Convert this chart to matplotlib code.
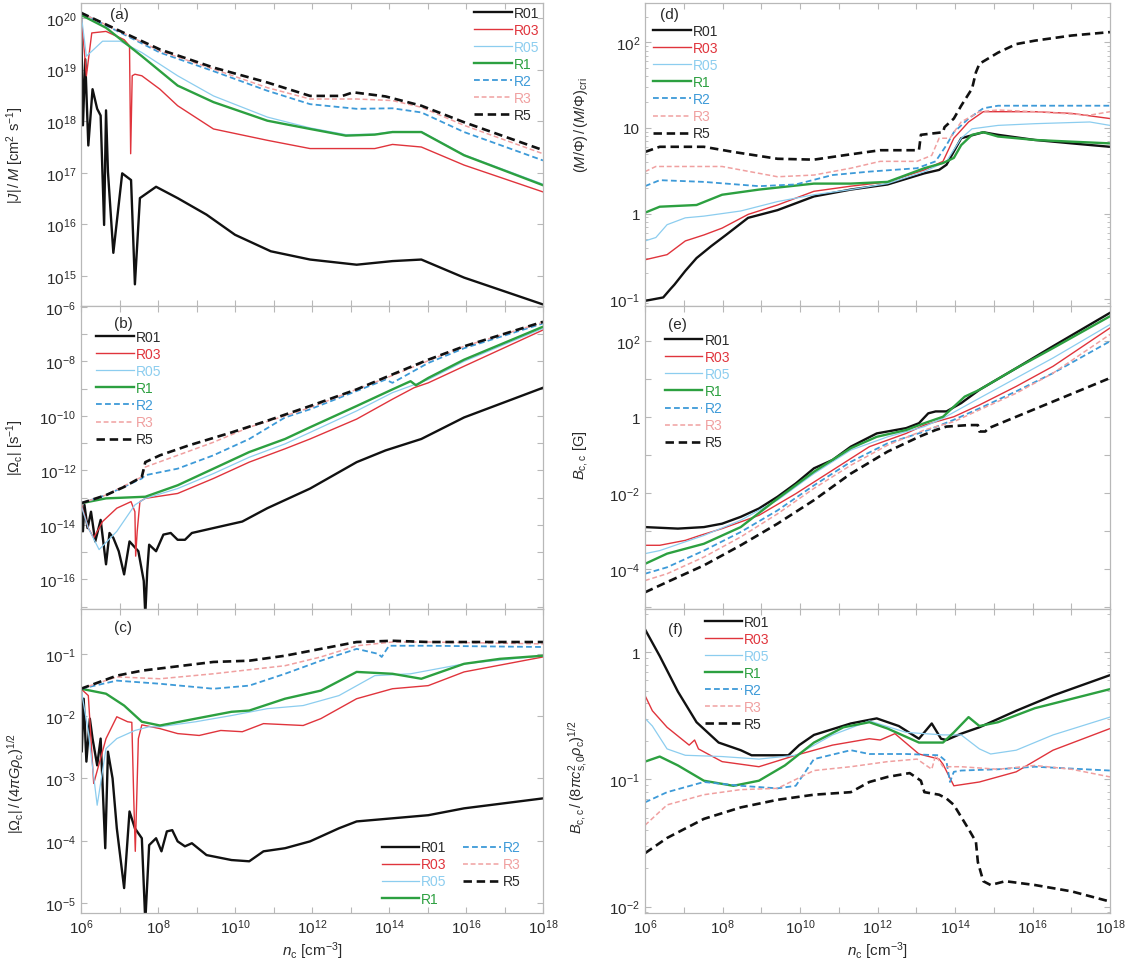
import numpy as np
import matplotlib
matplotlib.use("Agg")
import matplotlib.pyplot as plt
from matplotlib.ticker import FixedLocator, FuncFormatter, NullFormatter

plt.rcParams['font.family'] = ['Liberation Sans', 'DejaVu Sans']
plt.rcParams['mathtext.fontset'] = 'custom'
plt.rcParams['mathtext.rm'] = 'Liberation Sans'
plt.rcParams['mathtext.it'] = 'Liberation Sans:italic'
plt.rcParams['mathtext.bf'] = 'Liberation Sans:bold'

# ---------------- data (log10 n_c , log10 value) ----------------
LABELS = ["R01", "R03", "R05", "R1", "R2", "R3", "R5"]

# panel (a): |J|/M
a_r01_n = [6.00,6.05,6.11,6.19,6.30,6.42,6.51,6.60,6.65,6.70,6.84,7.07,7.30,7.40,7.53,7.95,8.51,9.26,10.0,10.93,11.95,13.16,14.09,14.84,15.95,18.0]
a_r01_v = [20.10,17.92,19.20,17.53,18.62,18.24,18.11,15.99,18.21,17.02,15.45,16.99,16.86,14.84,16.51,16.73,16.51,16.19,15.80,15.48,15.32,15.22,15.29,15.32,14.97,14.45]
a_r03_n = [6.00,6.14,6.28,6.65,7.12,7.26,7.29,7.33,7.40,7.58,8.05,8.51,9.44,10.84,11.95,13.63,14.09,14.84,15.95,18.0]
a_r03_v = [20.10,18.88,19.71,19.74,19.58,19.46,17.37,18.88,18.91,18.88,18.62,18.30,17.85,17.63,17.47,17.47,17.55,17.50,17.15,16.63]
a_r05_n = [6.0,6.14,6.33,6.56,7.02,7.58,8.51,9.44,10.84,11.95,12.88,13.63,14.09,14.84,15.95,18.0]
a_r05_v = [20.10,19.26,19.39,19.55,19.55,19.33,18.88,18.49,18.08,17.87,17.74,17.75,17.80,17.80,17.35,16.78]
a_r1_n = [6.0,6.65,7.58,8.51,9.44,10.84,11.95,12.88,13.63,14.09,14.84,15.95,18.0]
a_r1_v = [20.06,19.81,19.26,18.69,18.37,18.01,17.85,17.72,17.74,17.79,17.79,17.34,16.76]
a_r2_n = [6.0,7.12,8.05,9.44,10.84,11.95,13.16,14.09,14.84,15.95,18.0]
a_r2_v = [20.10,19.68,19.33,18.97,18.59,18.33,18.24,18.25,18.17,17.79,17.24]
a_r3_n = [6.0,7.12,8.05,9.44,10.84,11.95,13.16,14.09,14.84,15.95,18.0]
a_r3_v = [20.10,19.70,19.36,19.01,18.65,18.43,18.43,18.40,18.27,17.92,17.37]
a_r5_n = [6.0,7.12,8.05,9.44,10.84,11.95,12.79,13.07,13.91,14.84,15.95,18.0]
a_r5_v = [20.10,19.71,19.39,19.04,18.75,18.49,18.49,18.56,18.48,18.30,17.98,17.44]

# panel (b): |Omega_c|
b_r01_n = [6.00,6.05,6.09,6.17,6.26,6.37,6.51,6.65,6.74,6.84,6.98,7.12,7.26,7.49,7.63,7.67,7.72,7.77,7.95,8.14,8.33,8.51,8.70,8.88,9.44,10.19,10.84,11.95,13.16,13.91,14.84,15.95,18.0]
b_r01_v = [-13.21,-14.24,-13.27,-14.12,-13.52,-14.61,-13.82,-15.45,-14.30,-14.48,-14.97,-15.82,-14.61,-14.97,-16.06,-17.3,-15.70,-14.73,-14.97,-14.36,-14.30,-14.55,-14.55,-14.30,-14.12,-13.88,-13.39,-12.67,-11.70,-11.27,-10.85,-10.06,-8.97]
b_r03_n = [6.00,6.19,6.33,6.56,6.93,7.30,7.40,7.42,7.46,7.53,7.67,8.51,9.44,10.37,11.30,11.95,13.16,14.09,14.65,15.02,15.95,18.0]
b_r03_v = [-13.21,-14.12,-14.48,-13.88,-13.39,-13.15,-13.52,-15.15,-14.24,-13.15,-13.03,-12.85,-12.30,-11.70,-11.21,-10.85,-10.12,-9.39,-8.97,-8.79,-8.18,-6.85]
b_r05_n = [6.0,6.19,6.47,6.93,7.40,7.67,8.51,9.44,10.37,11.30,11.95,13.16,14.09,15.02,15.95,18.0]
b_r05_v = [-13.27,-14.12,-14.91,-14.24,-13.27,-13.03,-12.67,-12.12,-11.52,-11.03,-10.61,-9.82,-9.15,-8.67,-8.0,-6.79]
b_r1_n = [6.0,6.65,7.67,8.51,9.44,10.37,11.30,11.95,13.16,14.09,14.56,14.70,15.02,15.95,18.0]
b_r1_v = [-13.21,-13.03,-12.97,-12.55,-11.94,-11.33,-10.85,-10.42,-9.64,-9.03,-8.73,-8.88,-8.61,-7.94,-6.73]
b_r2_n = [6.0,6.65,7.58,7.67,8.51,9.44,10.37,11.30,11.95,13.16,13.91,14.09,15.02,15.95,18.0]
b_r2_v = [-13.21,-12.91,-12.30,-12.18,-11.94,-11.45,-10.85,-10.06,-9.76,-9.09,-8.67,-8.79,-8.06,-7.52,-6.61]
b_r3_n = [6.0,6.65,7.58,7.67,8.51,9.44,10.37,11.30,11.95,13.16,14.09,15.02,15.95,18.0]
b_r3_v = [-13.21,-12.91,-12.24,-11.88,-11.45,-10.97,-10.42,-10.0,-9.70,-9.03,-8.52,-7.98,-7.45,-6.57]
b_r5_n = [6.0,6.65,7.12,7.58,7.67,8.05,8.79,9.91,10.84,11.95,13.16,14.09,15.02,15.95,18.0]
b_r5_v = [-13.21,-12.91,-12.61,-12.24,-11.70,-11.45,-11.09,-10.61,-10.18,-9.64,-9.03,-8.48,-7.94,-7.45,-6.55]

# panel (c): |Omega_c| / (4 pi G rho_c)^1/2
c_r01_n = [6.0,6.02,6.07,6.14,6.23,6.30,6.42,6.51,6.63,6.70,6.82,6.93,7.12,7.26,7.40,7.58,7.67,7.77,7.95,8.09,8.23,8.37,8.51,8.70,8.88,9.26,9.91,10.37,10.74,11.30,11.95,12.70,13.16,14.09,15.02,15.95,18.0]
c_r01_v = [-1.56,-2.57,-1.72,-2.73,-2.04,-2.36,-2.79,-2.36,-4.12,-2.57,-3.0,-3.80,-4.76,-3.53,-3.80,-3.96,-5.3,-4.07,-3.96,-4.17,-3.85,-3.83,-4.01,-4.09,-4.04,-4.23,-4.31,-4.33,-4.17,-4.12,-4.01,-3.80,-3.69,-3.64,-3.59,-3.48,-3.32]
c_r03_n = [6.0,6.19,6.33,6.65,6.93,7.21,7.32,7.37,7.41,7.49,7.58,8.05,8.51,9.07,9.63,10.19,10.74,11.77,12.23,13.16,14.09,15.02,15.95,18.0]
c_r03_v = [-1.56,-1.67,-3.08,-2.36,-2.01,-2.09,-2.10,-3.32,-4.17,-2.36,-2.14,-2.20,-2.28,-2.31,-2.23,-2.25,-2.12,-2.15,-2.04,-1.72,-1.56,-1.51,-1.29,-1.05]
c_r05_n = [6.0,6.19,6.42,6.65,6.93,7.40,7.77,8.05,8.98,9.91,10.84,11.77,12.70,13.63,14.56,15.95,18.0]
c_r05_v = [-1.56,-2.25,-3.43,-2.52,-2.36,-2.23,-2.17,-2.17,-2.09,-1.99,-1.88,-1.83,-1.67,-1.35,-1.32,-1.16,-1.03]
c_r1_n = [6.0,6.65,7.12,7.58,8.05,8.98,9.91,10.37,11.30,12.23,13.16,14.09,14.84,15.95,16.88,18.0]
c_r1_v = [-1.56,-1.64,-1.83,-2.09,-2.15,-2.04,-1.93,-1.91,-1.72,-1.59,-1.29,-1.32,-1.40,-1.16,-1.08,-1.03]
c_r2_n = [6.0,6.93,8.05,9.44,10.37,11.30,12.23,13.16,13.72,13.81,14.0,15.02,18.0]
c_r2_v = [-1.56,-1.43,-1.48,-1.56,-1.51,-1.32,-1.11,-0.92,-1.0,-1.05,-0.87,-0.87,-0.89]
c_r3_n = [6.0,6.93,8.05,9.44,11.30,12.23,13.16,14.09,15.02,18.0]
c_r3_v = [-1.56,-1.37,-1.40,-1.32,-1.19,-1.05,-0.87,-0.81,-0.81,-0.84]
c_r5_n = [6.0,6.93,7.58,9.44,10.37,11.30,12.23,13.16,14.09,15.02,18.0]
c_r5_v = [-1.56,-1.35,-1.27,-1.13,-1.11,-1.03,-0.92,-0.81,-0.79,-0.81,-0.81]

# panel (d): (M/Phi)/(M/Phi)_cri
d_r01_n = [6.0,6.47,6.66,6.76,7.04,7.33,7.71,8.09,8.66,9.42,10.36,11.31,12.26,13.21,13.59,13.78,14.16,14.73,15.11,16.06,17.01,18.0]
d_r01_v = [-1.02,-0.98,-0.88,-0.83,-0.67,-0.52,-0.38,-0.25,-0.05,0.04,0.20,0.28,0.34,0.47,0.51,0.57,0.88,0.95,0.92,0.86,0.82,0.78]
d_r03_n = [6.0,6.57,7.04,7.52,7.99,8.66,9.42,10.36,11.31,12.26,13.21,13.69,13.97,14.35,14.73,16.06,17.01,18.0]
d_r03_v = [-0.54,-0.48,-0.32,-0.25,-0.17,-0.01,0.10,0.26,0.32,0.37,0.51,0.61,0.88,1.07,1.19,1.19,1.17,1.11]
d_r05_n = [6.0,6.28,6.57,7.04,7.52,8.47,9.42,10.36,11.31,12.26,13.21,13.78,14.16,14.44,15.11,16.06,17.48,18.0]
d_r05_v = [-0.32,-0.28,-0.13,-0.05,-0.03,0.03,0.14,0.22,0.28,0.35,0.49,0.61,0.88,0.99,1.03,1.05,1.07,1.03]
d_r1_n = [6.0,6.38,7.33,7.99,8.94,10.36,11.31,12.26,13.21,13.69,13.97,14.16,14.44,14.73,15.11,16.06,17.01,18.0]
d_r1_v = [0.01,0.08,0.10,0.22,0.28,0.35,0.35,0.37,0.53,0.59,0.65,0.80,0.92,0.95,0.90,0.86,0.84,0.82]
d_r2_n = [6.0,6.38,7.52,8.94,9.89,10.84,11.79,13.02,13.50,13.78,13.97,14.35,14.73,15.11,16.06,18.0]
d_r2_v = [0.32,0.39,0.37,0.32,0.34,0.45,0.49,0.53,0.61,0.80,0.95,1.11,1.23,1.26,1.26,1.26]
d_r3_n = [6.0,6.28,7.99,9.42,10.36,11.31,12.07,13.02,13.40,13.59,13.87,13.97,14.16,14.63,15.11,16.06,17.48,18.0]
d_r3_v = [0.49,0.55,0.55,0.43,0.45,0.53,0.61,0.61,0.68,0.88,0.88,0.95,1.07,1.19,1.21,1.19,1.15,1.19]
d_r5_n = [6.0,6.38,7.52,8.28,9.42,10.36,11.12,12.07,13.07,13.12,13.69,13.73,13.97,14.16,14.44,14.54,14.63,15.11,15.58,16.06,17.01,18.0]
d_r5_v = [0.72,0.78,0.78,0.72,0.64,0.63,0.68,0.74,0.74,0.92,0.95,1.01,1.11,1.26,1.46,1.65,1.75,1.88,1.98,2.02,2.08,2.12]

# panel (e): B_c,c
e_r01_n = [6.0,6.85,7.52,7.99,8.47,8.94,9.42,9.89,10.36,10.84,11.31,11.98,12.74,13.07,13.31,13.50,13.78,14.16,14.63,15.58,16.53,18.0]
e_r01_v = [-2.90,-2.94,-2.90,-2.81,-2.63,-2.41,-2.10,-1.75,-1.35,-1.13,-0.78,-0.43,-0.29,-0.16,0.10,0.15,0.15,0.37,0.72,1.29,1.87,2.75]
e_r03_n = [6.0,6.38,7.04,7.42,7.99,8.94,9.89,10.84,11.79,12.74,13.21,13.97,14.63,15.58,16.53,18.0]
e_r03_v = [-3.38,-3.38,-3.25,-3.12,-2.94,-2.59,-2.02,-1.40,-0.78,-0.43,-0.21,0.01,0.32,0.81,1.34,2.35]
e_r05_n = [6.0,6.38,7.52,8.47,9.42,10.36,11.31,12.26,13.21,13.69,14.63,15.58,16.53,18.0]
e_r05_v = [-3.60,-3.52,-3.12,-2.72,-2.19,-1.49,-0.87,-0.52,-0.25,-0.03,0.50,1.03,1.56,2.44]
e_r1_n = [6.0,6.57,7.52,8.47,9.42,10.36,11.31,11.98,12.74,13.21,13.69,14.25,14.63,15.58,16.53,18.0]
e_r1_v = [-3.87,-3.60,-3.34,-2.90,-2.15,-1.44,-0.82,-0.52,-0.34,-0.16,0.01,0.54,0.72,1.29,1.82,2.66]
e_r2_n = [6.0,6.57,7.52,8.47,9.42,10.36,11.31,12.26,13.21,13.97,14.63,15.58,16.53,18.0]
e_r2_v = [-4.13,-3.96,-3.52,-3.03,-2.46,-1.80,-1.18,-0.69,-0.38,-0.07,0.23,0.68,1.16,2.0]
e_r3_n = [6.0,6.57,7.52,8.47,9.42,10.36,11.31,12.26,13.21,13.97,14.63,15.58,16.53,18.0]
e_r3_v = [-4.31,-4.13,-3.69,-3.16,-2.55,-1.88,-1.27,-0.74,-0.34,-0.12,0.19,0.63,1.16,2.18]
e_r5_n = [6.0,6.57,7.52,8.47,9.42,10.36,11.31,12.26,13.07,13.50,13.78,14.35,14.59,14.63,14.78,14.87,15.58,16.53,18.0]
e_r5_v = [-4.62,-4.35,-3.91,-3.38,-2.81,-2.19,-1.49,-0.91,-0.52,-0.34,-0.25,-0.21,-0.21,-0.38,-0.38,-0.29,0.01,0.41,1.03]

# panel (f): B_c,c / (8 pi c_s0^2 rho_c)^1/2
f_r01_n = [6.0,6.38,6.85,7.33,7.90,8.47,8.75,9.70,9.98,10.36,11.31,11.98,12.55,13.07,13.40,13.64,13.78,14.16,14.63,15.58,16.53,18.0]
f_r01_v = [0.18,-0.03,-0.31,-0.55,-0.71,-0.77,-0.81,-0.81,-0.73,-0.65,-0.56,-0.52,-0.58,-0.68,-0.56,-0.68,-0.69,-0.64,-0.59,-0.46,-0.34,-0.18]
f_r03_n = [6.0,6.19,6.57,7.14,7.28,7.38,7.99,8.94,9.89,10.84,11.79,12.07,12.45,13.07,13.59,13.69,13.97,14.63,15.58,16.53,18.0]
f_r03_v = [-0.34,-0.46,-0.59,-0.73,-0.69,-0.76,-0.86,-0.90,-0.81,-0.73,-0.68,-0.69,-0.64,-0.80,-0.84,-0.88,-1.05,-1.02,-0.94,-0.77,-0.60]
f_r05_n = [6.0,6.19,6.57,7.04,7.99,8.94,9.89,10.84,11.79,12.74,13.69,14.16,14.63,14.92,15.58,16.53,18.0]
f_r05_v = [-0.52,-0.58,-0.76,-0.81,-0.82,-0.84,-0.81,-0.65,-0.54,-0.63,-0.65,-0.65,-0.76,-0.80,-0.77,-0.65,-0.51]
f_r1_n = [6.0,6.38,6.85,7.52,8.28,8.94,9.61,10.36,11.12,11.79,12.26,13.07,13.69,13.97,14.35,14.63,15.11,16.06,18.0]
f_r1_v = [-0.86,-0.82,-0.89,-1.01,-1.05,-1.01,-0.89,-0.71,-0.59,-0.55,-0.60,-0.71,-0.71,-0.63,-0.51,-0.58,-0.55,-0.44,-0.29]
f_r2_n = [6.0,6.57,7.52,8.47,9.42,9.89,10.36,11.31,11.79,12.74,13.59,13.78,13.87,13.97,14.16,15.11,16.06,18.0]
f_r2_v = [-1.18,-1.10,-1.02,-1.05,-1.07,-1.05,-0.84,-0.77,-0.80,-0.80,-0.81,-0.86,-1.02,-0.94,-0.93,-0.92,-0.90,-0.93]
f_r3_n = [6.0,6.57,7.52,8.47,9.42,10.36,11.31,12.26,13.02,13.40,13.50,13.69,14.16,15.11,16.06,17.01,18.0]
f_r3_v = [-1.36,-1.20,-1.12,-1.08,-1.07,-0.93,-0.90,-0.86,-0.84,-0.92,-0.81,-0.90,-0.90,-0.92,-0.89,-0.92,-0.98]
f_r5_n = [6.0,6.57,7.52,8.47,9.42,10.36,11.31,11.79,12.26,12.83,13.12,13.21,13.59,13.78,13.97,14.35,14.54,14.59,14.73,14.92,15.30,16.06,17.01,18.0]
f_r5_v = [-1.58,-1.46,-1.31,-1.22,-1.16,-1.12,-1.10,-1.02,-0.98,-0.95,-1.01,-1.10,-1.12,-1.15,-1.20,-1.39,-1.49,-1.65,-1.80,-1.83,-1.80,-1.83,-1.88,-1.96]

# ---------------- styles ----------------
STYLE = {
    "R01": dict(color="#111111", ls="-", lw=1.7),
    "R03": dict(color="#e0343c", ls="-", lw=1.0),
    "R05": dict(color="#8ccdef", ls="-", lw=0.9),
    "R1":  dict(color="#2ca040", ls="-", lw=1.7),
    "R2":  dict(color="#3d9ad8", ls=(0, (3.2, 1.8)), lw=1.3),
    "R3":  dict(color="#f0a0a0", ls=(0, (3.2, 1.8)), lw=1.1),
    "R5":  dict(color="#111111", ls=(0, (3.2, 1.8)), lw=1.9),
}

g = globals()
def series(p):
    return [(lab, g[f"{p}_{lab.lower()}_n"], g[f"{p}_{lab.lower()}_v"]) for lab in LABELS]

fig = plt.figure(figsize=(11.33, 9.70), dpi=100)
W, H = 1133.0, 970.0
col_x = [(81, 543), (645, 1110)]
row_y = [(4, 307), (307, 610), (610, 914)]

def make_ax(c, r):
    x0, x1 = col_x[c]
    y0, y1 = row_y[r]
    return fig.add_axes([x0 / W, 1 - y1 / H, (x1 - x0) / W, (y1 - y0) / H])

def dec_fmt(v, pos):
    k = int(round(np.log10(v)))
    if k == 0:
        return "1"
    if k == 1:
        return "10"
    return r"$10^{%d}$" % k

panels = [
    # key, col, row, ylim(log), label step, ylabel, minor, panel tag, ylabel y-position
    ("a", 0, 0, (14.42, 20.29), 1, r"$|J|\,/\,M\ [\mathrm{cm}^2\ \mathrm{s}^{-1}]$", False, "(a)", 0.5),
    ("b", 0, 1, (-17.09, -5.97), 2, r"$|\Omega_\mathrm{c}|\ [\mathrm{s}^{-1}]$", False, "(b)", 0.535),
    ("c", 0, 2, (-5.16, -0.28), 1, r"$|\Omega_\mathrm{c}|\,/\,(4\pi G\rho_\mathrm{c})^{1/2}$", False, "(c)", 0.43),
    ("d", 1, 0, (-1.08, 2.46), 1, r"$(M/\Phi)\,/\,(M/\Phi)_\mathrm{cri}$", True, "(d)", 0.6),
    ("e", 1, 1, (-5.06, 2.93), 2, r"$B_\mathrm{c,c}$ [G]", False, "(e)", 0.51),
    ("f", 1, 2, (-2.05, 0.34), 1, r"$B_\mathrm{c,c}\,/\,(8\pi c_\mathrm{s,0}^2\rho_\mathrm{c})^{1/2}$", True, "(f)", 0.45),
]

legend_cfg = {
    "a": dict(loc="upper right", bbox_to_anchor=(0.995, 0.995), ncol=1),
    "b": dict(loc="upper left", bbox_to_anchor=(0.03, 0.925), ncol=1),
    "c": dict(loc="lower right", bbox_to_anchor=(0.955, 0.02), ncol=2),
    "d": dict(loc="upper left", bbox_to_anchor=(0.015, 0.935), ncol=1),
    "e": dict(loc="upper left", bbox_to_anchor=(0.04, 0.915), ncol=1),
    "f": dict(loc="upper left", bbox_to_anchor=(0.125, 0.985), ncol=1),
}

SPINE = "#b8b8b8"
TXT = "#2a2a2a"

for key, c, r, ylim, step, ylabel, minor, tag, ylab_y in panels:
    ax = make_ax(c, r)
    for lab, n, v in series(key):
        st = STYLE[lab]
        ax.plot(10.0 ** np.array(n), 10.0 ** np.array(v), color=st["color"],
                linestyle=st["ls"], linewidth=st["lw"], label=lab)
    ax.set_xscale("log")
    ax.set_yscale("log")
    ax.set_xlim(1e6, 1e18)
    ax.set_ylim(10 ** ylim[0], 10 ** ylim[1])

    xt = [10.0 ** k for k in range(6, 19)]
    ax.xaxis.set_major_locator(FixedLocator(xt))
    ax.xaxis.set_minor_locator(FixedLocator([]))
    if r == 2:
        ax.xaxis.set_major_formatter(FuncFormatter(lambda v, p: dec_fmt(v, p) if int(round(np.log10(v))) % 2 == 0 else ""))
        ax.set_xlabel(r"$n_\mathrm{c}\ [\mathrm{cm}^{-3}]$", fontsize=11, color=TXT, labelpad=2)
    else:
        ax.xaxis.set_major_formatter(NullFormatter())

    lo, hi = int(np.floor(ylim[0])), int(np.ceil(ylim[1]))
    yt = [10.0 ** k for k in range(lo, hi + 1)]
    ax.yaxis.set_major_locator(FixedLocator(yt))
    if step == 2:
        ax.yaxis.set_major_formatter(FuncFormatter(lambda v, p: dec_fmt(v, p) if int(round(np.log10(v))) % 2 == 0 else ""))
    else:
        ax.yaxis.set_major_formatter(FuncFormatter(dec_fmt))
    if minor:
        mt = [m * 10.0 ** k for k in range(lo, hi + 1) for m in range(2, 10)]
        ax.yaxis.set_minor_locator(FixedLocator(mt))
    else:
        ax.yaxis.set_minor_locator(FixedLocator([]))
    ax.yaxis.set_minor_formatter(NullFormatter())

    ax.tick_params(which="both", direction="in", top=True, right=True, color=SPINE,
                   labelsize=11, labelcolor=TXT)
    ax.tick_params(which="major", length=4, width=0.8)
    ax.tick_params(which="minor", length=2.5, width=0.6)
    for s in ax.spines.values():
        s.set_color(SPINE)
        s.set_linewidth(0.9)

    ax.set_ylabel(ylabel, fontsize=10.5, color=TXT)
    xlab = -0.118 if c == 1 else -0.118
    ax.yaxis.set_label_coords(xlab, ylab_y)

    # panel tag
    tpos = {"a": (0.063, 0.965), "b": (0.072, 0.945), "c": (0.072, 0.94),
            "d": (0.032, 0.965), "e": (0.05, 0.94), "f": (0.05, 0.935)}[key]
    ax.text(tpos[0], tpos[1], tag, transform=ax.transAxes, fontsize=11,
            color=TXT, ha="left", va="center")

    leg = ax.legend(frameon=False, fontsize=10, handlelength=2.7, handletextpad=0.15,
                    labelspacing=0.22, borderpad=0.1, borderaxespad=0.0,
                    columnspacing=1.2, **legend_cfg[key])
    for t, l in zip(leg.get_texts(), leg.get_lines()):
        t.set_color(l.get_color() if l.get_color() not in ("#111111",) else TXT)

fig.savefig("out.png", dpi=100)
